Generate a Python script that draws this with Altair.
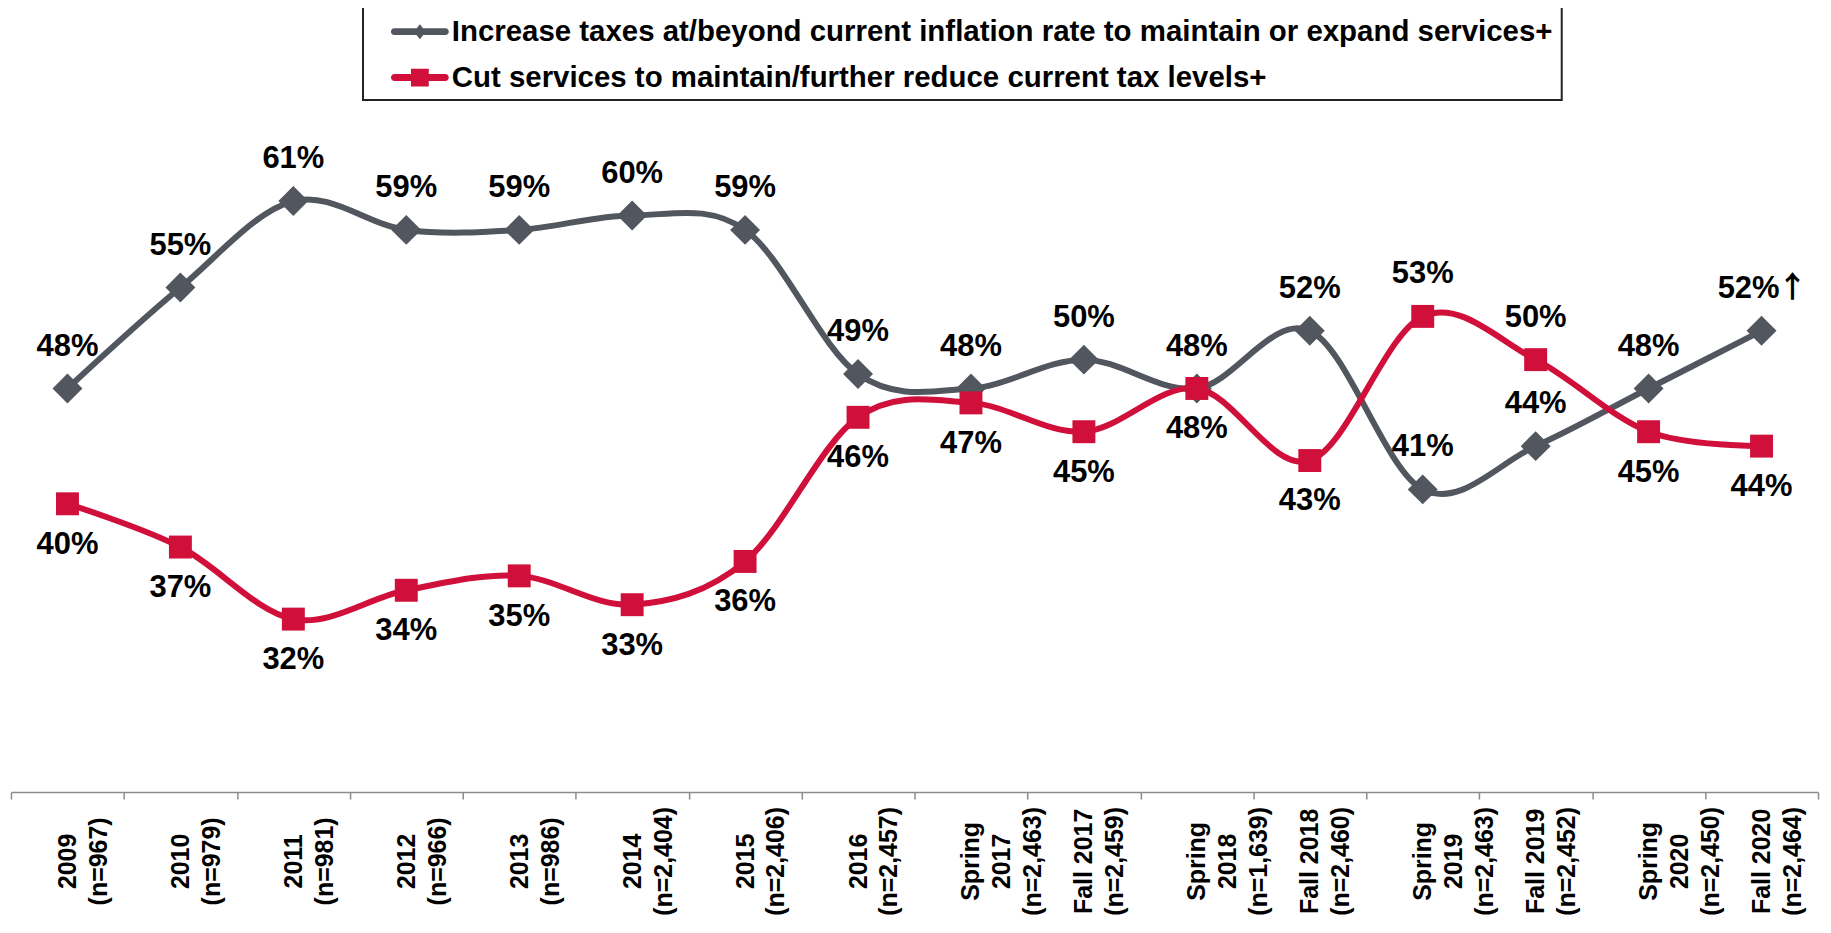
import altair as alt
import pandas as pd

# ---------------- data ----------------
categories = [
    "2009\n(n=967)", "2010\n(n=979)", "2011\n(n=981)", "2012\n(n=966)",
    "2013\n(n=986)", "2014\n(n=2,404)", "2015\n(n=2,406)", "2016\n(n=2,457)",
    "Spring\n2017\n(n=2,463)", "Fall 2017\n(n=2,459)", "Spring\n2018\n(n=1,639)",
    "Fall 2018\n(n=2,460)", "Spring\n2019\n(n=2,463)", "Fall 2019\n(n=2,452)",
    "Spring\n2020\n(n=2,450)", "Fall 2020\n(n=2,464)",
]
series_names = [
    "Increase taxes at/beyond current inflation rate to maintain or expand services+",
    "Cut services to maintain/further reduce current tax levels+",
]
increase = [48, 55, 61, 59, 59, 60, 59, 49, 48, 50, 48, 52, 41, 44, 48, 52]
cut = [40, 37, 32, 34, 35, 33, 36, 46, 47, 45, 48, 43, 53, 50, 45, 44]
increase_notes = ["", "", "", "", "", "", "", "", "", "", "", "", "", "", "", "↑"]

GRAY = "#52565E"
RED = "#D0103A"

rows = []
for i, c in enumerate(categories):
    rows.append({"cat": c, "series": series_names[0], "value": increase[i],
                 "label": f"{increase[i]}%", "note": increase_notes[i], "pos": "above"})
    rows.append({"cat": c, "series": series_names[1], "value": cut[i],
                 "label": f"{cut[i]}%", "note": "",
                 "pos": "above" if cut[i] > increase[i] else "below"})
df = pd.DataFrame(rows)

# ---------------- encodings ----------------
x = alt.X(
    "cat:N", sort=categories,
    scale=alt.Scale(type="band", paddingInner=0, paddingOuter=0),
    axis=alt.Axis(
        title=None, labelAngle=-90, labelAlign="center", labelBaseline="middle",
        labelExpr="split(datum.label, '\\n')",
        labelFont="Liberation Sans", labelFontWeight="bold", labelFontSize=25,
        labelLineHeight=31, labelColor="#000000", labelPadding=62,
        labelOverlap=False, labelBound=False, labelFlush=False,
        tickBand="extent", tickSize=7, tickColor="#8c8c8c", tickWidth=1.5,
        domainColor="#8c8c8c", domainWidth=1.5, grid=False,
    ),
)
y = alt.Y("value:Q", scale=alt.Scale(domain=[20, 74.1], nice=False, zero=False), axis=None)

gray_sym = ("M0.333,-0.19 L3.267,-0.19 A0.19,0.19 0 0 1 3.267,0.19 L0.333,0.19 "
            "A0.19,0.19 0 0 1 0.333,-0.19 Z M1.8,-0.43 L2.14,0 L1.8,0.43 L1.46,0 Z")
red_sym = ("M0.343,-0.2 L3.257,-0.2 A0.2,0.2 0 0 1 3.257,0.2 L0.343,0.2 "
           "A0.2,0.2 0 0 1 0.343,-0.2 Z M1.29,-0.51 L2.31,-0.51 L2.31,0.51 L1.29,0.51 Z")

legend = alt.Legend(
    title=None, orient="none", legendX=353, legendY=-6,
    padding=8, rowPadding=14, symbolSize=1225, symbolStrokeWidth=0,
    symbolType={"expr": f"datum.value === '{series_names[0]}' ? '{gray_sym}' : '{red_sym}'"},
    symbolOpacity=1,
    labelOffset=46, labelFont="Liberation Sans", labelFontSize=29.5,
    labelFontWeight="bold", labelColor="#000000", labelLimit=2000,
    strokeColor="#222222", fillColor="#ffffff",
)
color_scale = alt.Scale(domain=series_names, range=[GRAY, RED])
color_leg = alt.Color("series:N", scale=color_scale, legend=legend)

base = alt.Chart(df)
is_gray = alt.datum.series == series_names[0]
is_red = alt.datum.series == series_names[1]

gray_line = base.transform_filter(is_gray).mark_line(
    interpolate="cardinal", strokeWidth=6, color=GRAY).encode(x=x, y=y)
gray_pts = base.transform_filter(is_gray).mark_point(
    shape="diamond", filled=True, size=900, opacity=1).encode(x=x, y=y, color=color_leg)
red_line = base.transform_filter(is_red).mark_line(
    interpolate="cardinal", strokeWidth=6, color=RED).encode(x=x, y=y)
red_pts = base.transform_filter(is_red).mark_point(
    shape="square", filled=True, size=529, opacity=1).encode(x=x, y=y, color=color_leg)

txt = dict(font="Liberation Sans", fontSize=31, fontWeight="bold", color="#000000",
           baseline="middle")
text_above = base.transform_filter(
    (alt.datum.pos == "above") & (alt.datum.note == "")).mark_text(
    dy=-42, align="center", **txt).encode(x=x, y=y, text="label:N")
text_below = base.transform_filter(alt.datum.pos == "below").mark_text(
    dy=41, align="center", **txt).encode(x=x, y=y, text="label:N")
text_noted = base.transform_filter(alt.datum.note != "").mark_text(
    dy=-42, dx=18, align="right", **txt).encode(x=x, y=y, text="label:N")
text_arrow = base.transform_filter(alt.datum.note != "").mark_text(
    dy=-43, dx=31, align="center", baseline="middle", font="Noto Sans CJK SC",
    fontSize=30, fontWeight="bold", color="#000000").encode(x=x, y=y, text="note:N")

chart = alt.layer(gray_line, gray_pts, red_line, red_pts,
                  text_above, text_below, text_noted, text_arrow).properties(
    width=1812, height=782,
    autosize=alt.AutoSizeParams(type="none"),
    padding={"left": 3, "top": 3, "right": 5, "bottom": 125},
    background="#ffffff",
).configure_view(stroke=None).configure_legend(strokeWidth=2)

chart.save("out.html", embed_options={"renderer": "svg", "actions": False})
